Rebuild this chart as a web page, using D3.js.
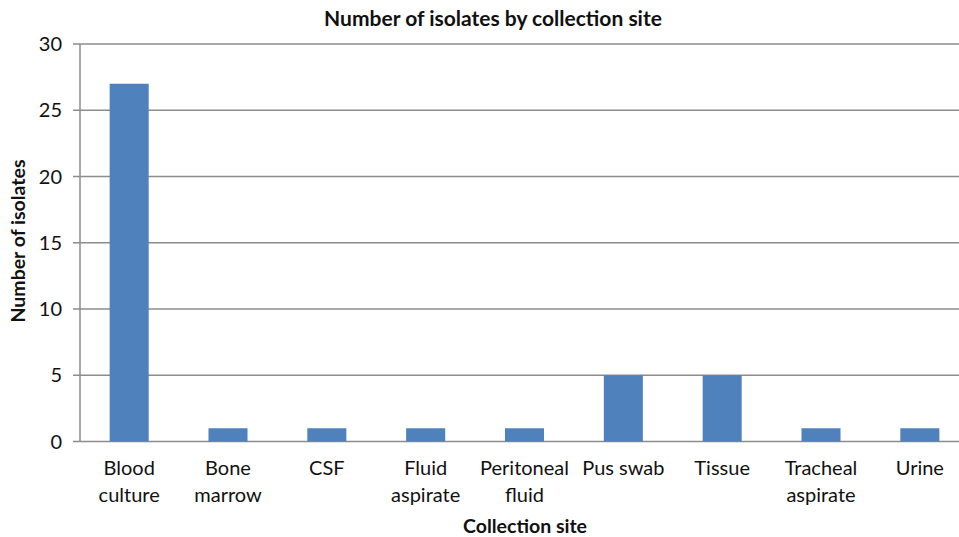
<!DOCTYPE html>
<html>
<head>
<meta charset="utf-8">
<script src="https://cdn.jsdelivr.net/npm/d3@7"></script>
<style>
  body { margin: 0; background: #fff; }
  text { font-family: Lato, "Liberation Sans", sans-serif; fill: #111; }
</style>
</head>
<body>
<svg></svg>
<script>
// data
const sites = [
  ["Blood", "culture"], ["Bone", "marrow"], ["CSF"], ["Fluid", "aspirate"],
  ["Peritoneal", "fluid"], ["Pus swab"], ["Tissue"], ["Tracheal", "aspirate"], ["Urine"]];
const isolates = [27, 1, 1, 1, 1, 5, 5, 1, 1];
const yTicks = [0, 5, 10, 15, 20, 25, 30];

const width = 959;
const height = 537;
const plotLeft = 80, plotTop = 44, plotBottom = 441.5, plotRight = 969;

const svg = d3.select("svg")
  .attr("width", width)
  .attr("height", height);

const x = d3.scaleBand()
  .domain(d3.range(sites.length))
  .range([plotLeft, plotRight])
  .paddingInner(0.605)
  .paddingOuter(0.3);

const y = d3.scaleLinear()
  .domain([0, 30])
  .range([plotBottom, plotTop]);

// gridlines + left ticks
svg.append("g")
  .selectAll("line")
  .data(yTicks)
  .join("line")
    .attr("x1", plotLeft - 7)
    .attr("x2", width)
    .attr("y1", d => y(d))
    .attr("y2", d => y(d))
    .attr("stroke", "#8c8c8c")
    .attr("stroke-width", 1.5);

svg.append("line")
  .attr("x1", plotLeft).attr("x2", plotLeft)
  .attr("y1", plotTop).attr("y2", plotBottom)
  .attr("stroke", "#8c8c8c")
  .attr("stroke-width", 1.5);

svg.append("g")
  .selectAll("text")
  .data(yTicks)
  .join("text")
    .attr("x", 62)
    .attr("y", d => y(d))
    .attr("dy", "0.36em")
    .attr("text-anchor", "end")
    .attr("font-size", 20)
    .text(d => d);

// bars
svg.append("g")
  .selectAll("rect")
  .data(isolates)
  .join("rect")
    .attr("x", (d, i) => x(i))
    .attr("y", d => y(d))
    .attr("width", x.bandwidth())
    .attr("height", d => y(0) - y(d))
    .attr("fill", "#4f81bd");

// category labels
const labels = svg.append("g")
  .selectAll("text")
  .data(sites)
  .join("text")
    .attr("text-anchor", "middle")
    .attr("font-size", 20)
    .attr("transform", (d, i) => `translate(${x(i) + x.bandwidth() / 2}, 475)`);

labels.selectAll("tspan")
  .data(d => d)
  .join("tspan")
    .attr("x", 0)
    .attr("y", (d, i) => i * 27)
    .text(d => d);

svg.append("text")
  .attr("x", 525)
  .attr("y", 533)
  .attr("text-anchor", "middle")
  .attr("font-size", 19.5)
  .attr("font-weight", "bold")
  .text("Collection site");

svg.append("text")
  .attr("transform", "translate(25, 241) rotate(-90)")
  .attr("text-anchor", "middle")
  .attr("font-size", 19.5)
  .attr("font-weight", "bold")
  .text("Number of isolates");

svg.append("text")
  .attr("x", 493)
  .attr("y", 26)
  .attr("text-anchor", "middle")
  .attr("font-size", 21)
  .attr("font-weight", "bold")
  .text("Number of isolates by collection site");
</script>
</body>
</html>
